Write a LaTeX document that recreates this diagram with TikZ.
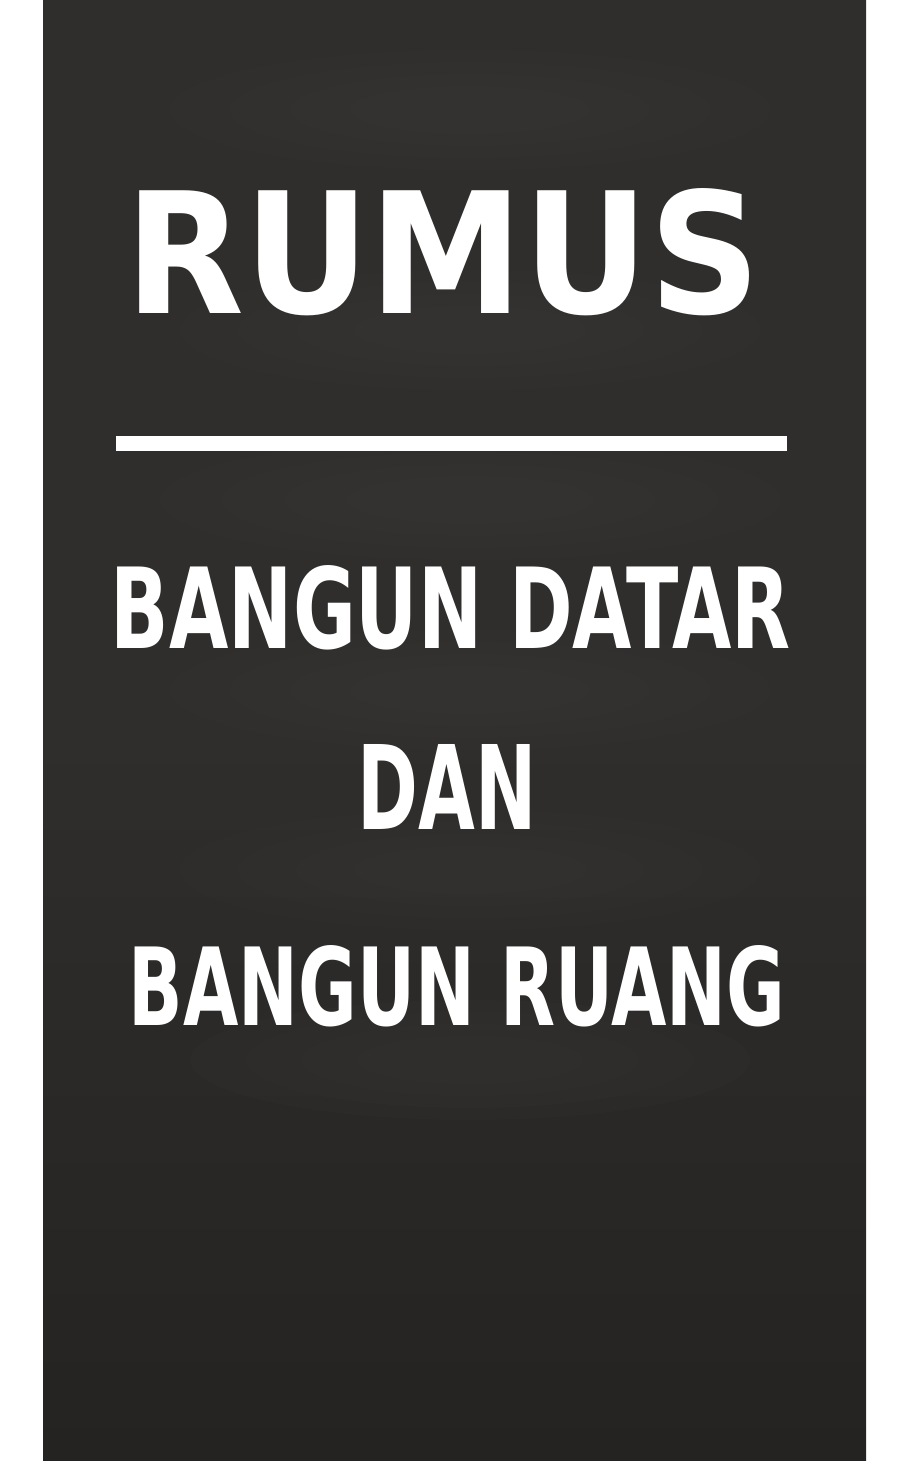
\documentclass[tikz,border=0pt]{standalone}
\usepackage{fontspec}
\setmainfont{DejaVu Sans}
\usepackage{graphicx}
\definecolor{board}{RGB}{47,46,44}
\definecolor{boardlight}{RGB}{60,59,57}
\definecolor{boarddark}{RGB}{36,35,34}

\begin{document}
\begin{tikzpicture}[x=0.25mm,y=-0.25mm,
        title/.style={
          inner sep=0pt,anchor=south,text=white,font=\bfseries
        },
        smudge/.style={
          fill=boardlight,opacity=.12
        }
      ]
      \useasboundingbox (0,0) rectangle (909,1461);
      \shade [top color=board, bottom color=boarddark, middle color=board] (43,0) rectangle (866,1461);
      % soft chalk smudges
      \foreach \y/\w in {110/300, 330/290, 500/310, 690/300, 870/290, 1060/280}
        \foreach \k in {1,.8,.6,.4}
          \fill [smudge] (470,\y) ellipse [x radius=\k*\w, y radius=\k*60];
      \node [title] (rumus) at (443,316) {\resizebox{158.75mm}{31.25mm}{RUMUS}};
      \fill [white] (116,436) rectangle (787,451);
      \node [title] (datar) at (451,650) {\resizebox{170mm}{20.75mm}{BANGUN DATAR}};
      \node [title] (dan) at (447,830) {\resizebox{44.75mm}{21.25mm}{DAN}};
      \node [title] (ruang) at (457,1027) {\resizebox{164mm}{20mm}{BANGUN RUANG}};
    \end{tikzpicture}
\end{document}
